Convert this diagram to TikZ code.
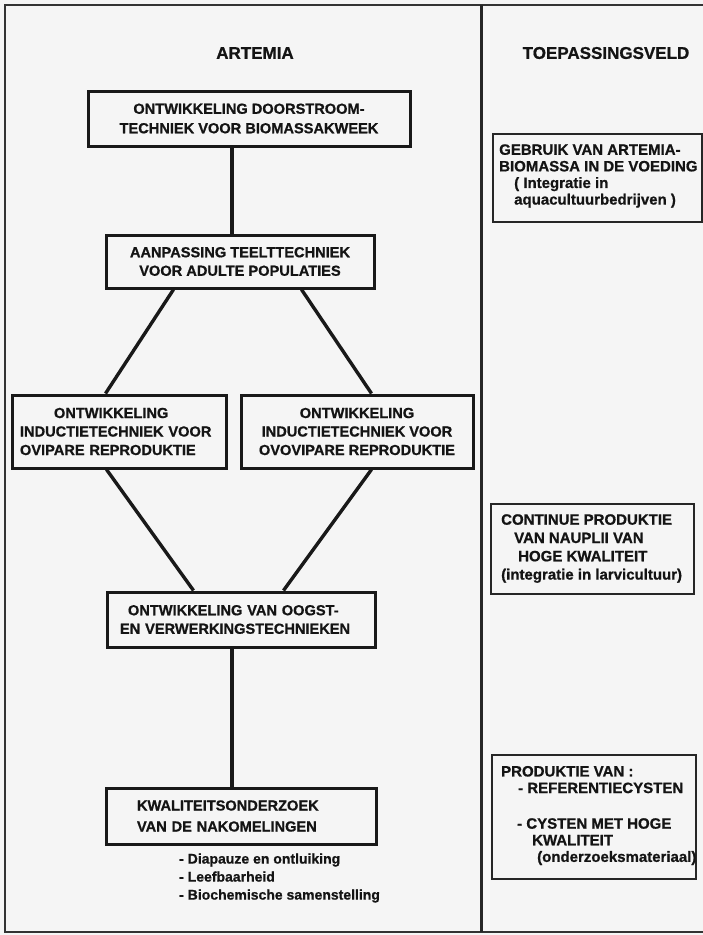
\documentclass[tikz,border=0pt]{standalone}
\usepackage{fontspec}
\setmainfont{Liberation Sans}[BoldFeatures={FakeBold=0.8}]
\begin{document}
\begin{tikzpicture}[x=1pt,y=-1pt,
  box/.style={draw=black!90, line width=3pt, inner sep=0pt, text=black!92,
    font=\bfseries\fontsize{14.6}{18.5}\selectfont},
  rbox/.style={draw=black!85, line width=1.5pt, inner sep=0pt},
  rtext/.style={text=black!92, font=\bfseries\fontsize{15}{16.6}\selectfont,
    align=left, inner sep=0pt, anchor=west},
  ltext/.style={text=black!92, font=\bfseries\fontsize{14}{18}\selectfont,
    align=left, inner sep=0pt, anchor=west},
  title/.style={text=black!92, font=\bfseries\fontsize{17}{20}\selectfont, inner sep=0pt},
  conn/.style={draw=black!90, line width=3.4pt},
  frame/.style={draw=black!80, line width=1.5pt}]
\fill[black!4] (0,0) rectangle (703,935);
\useasboundingbox (0,0) rectangle (703,935);
% frame
\draw[frame] (703,5) -- (5,5) -- (5,932) -- (703,932);
\draw[draw=black!85, line width=3pt] (481,5) -- (481,932);
% titles
\node[title] (tA) at (255,53) {ARTEMIA};
\node[title] (tT) at (606,53) {TOEPASSINGSVELD};
% left boxes
\node[box, minimum width=322pt, minimum height=55pt, align=center,
  font=\bfseries\fontsize{14.6}{19.5}\selectfont] (b1) at (249,118.5)
  {ONTWIKKELING DOORSTROOM-\\TECHNIEK VOOR BIOMASSAKWEEK};
\node[box, minimum width=268pt, minimum height=53pt, align=center] (b2) at (240,261.5)
  {AANPASSING TEELTTECHNIEK\\VOOR ADULTE POPULATIES};
\node[box, minimum width=214pt, minimum height=73pt, align=left, text width=198pt] (b3) at (119,431.5)
  {\hspace*{34pt}ONTWIKKELING\\INDUCTIETECHNIEK VOOR\\OVIPARE REPRODUKTIE};
\node[box, minimum width=232pt, minimum height=73pt, align=center] (b4) at (357,431.5)
  {ONTWIKKELING\\INDUCTIETECHNIEK VOOR\\OVOVIPARE REPRODUKTIE};
\node[box, minimum width=268pt, minimum height=55pt, align=left, text width=242pt] (b5) at (241,619.5)
  {\hspace*{8pt}ONTWIKKELING VAN OOGST-\\EN VERWERKINGSTECHNIEKEN};
\node[box, minimum width=270pt, minimum height=56pt, align=left, text width=208pt,
  font=\bfseries\fontsize{14.6}{21}\selectfont] (b6) at (241,816)
  {KWALITEITSONDERZOEK\\VAN DE NAKOMELINGEN};
\node[ltext] (bl) at (179,878)
  {- Diapauze en ontluiking\\- Leefbaarheid\\- Biochemische samenstelling};
% connectors
\coordinate (cx) at (232,0);
\draw[conn] (b1.south -| cx) -- (b2.north -| cx);
\draw[conn] ([xshift=69pt]b2.south west) -- ([xshift=95pt]b3.north west);
\draw[conn] ([xshift=197pt]b2.south west) -- ([xshift=132pt]b4.north west);
\draw[conn] ([xshift=96pt]b3.south west) -- ([xshift=88pt]b5.north west);
\draw[conn] ([xshift=132pt]b4.south west) -- ([xshift=178pt]b5.north west);
\draw[conn] (b5.south -| cx) -- (b6.north -| cx);
% right boxes
\node[rbox, minimum width=209pt, minimum height=88pt] (r1) at (597.5,178) {};
\node[rtext] (r1t) at (499,176)
  {GEBRUIK VAN ARTEMIA-\\BIOMASSA IN DE VOEDING\\\hspace*{15pt}( Integratie in\\\hspace*{15pt}aquacultuurbedrijven )};
\node[rbox, minimum width=203pt, minimum height=90pt] (r2) at (592.5,549) {};
\node[rtext, font=\bfseries\fontsize{15}{18.3}\selectfont] (r2t) at (501,548.5)
  {CONTINUE PRODUKTIE\\\hspace*{13pt}VAN NAUPLII VAN\\\hspace*{17pt}HOGE KWALITEIT\\(integratie in larvicultuur)};
\node[rbox, minimum width=204pt, minimum height=124pt] (r3) at (594,817) {};
\node[rtext] (r3t) at (501,815.5)
  {PRODUKTIE VAN :\\\hspace*{17pt}- REFERENTIECYSTEN\\[19pt]\hspace*{16pt}- CYSTEN MET HOGE\\\hspace*{31pt}KWALITEIT\\\hspace*{36pt}(onderzoeksmateriaal)};
\end{tikzpicture}
\end{document}
